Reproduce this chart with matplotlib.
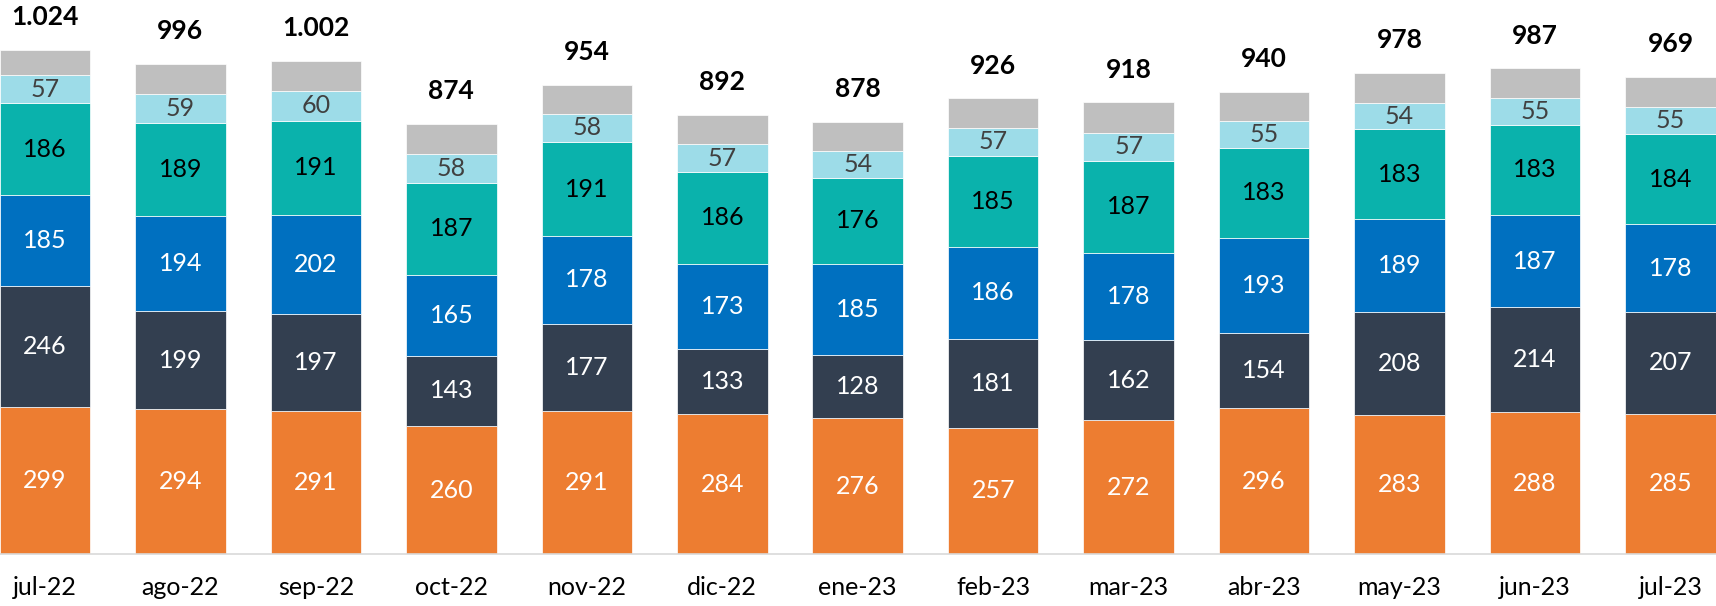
import numpy as np
import matplotlib
matplotlib.use("Agg")
from matplotlib import pyplot as plt

months = ["jul-22", "ago-22", "sep-22", "oct-22", "nov-22", "dic-22", "ene-23",
          "feb-23", "mar-23", "abr-23", "may-23", "jun-23", "jul-23"]
orange = [299, 294, 291, 260, 291, 284, 276, 257, 272, 296, 283, 288, 285]
navy = [246, 199, 197, 143, 177, 133, 128, 181, 162, 154, 208, 214, 207]
blue = [185, 194, 202, 165, 178, 173, 185, 186, 178, 193, 189, 187, 178]
teal = [186, 189, 191, 187, 191, 186, 176, 185, 187, 183, 183, 183, 184]
light = [57, 59, 60, 58, 58, 57, 54, 57, 57, 55, 54, 55, 55]
gray = [51, 61, 61, 61, 59, 59, 59, 60, 62, 59, 61, 60, 60]
totals = [1024, 996, 1002, 874, 954, 892, 878, 926, 918, 940, 978, 987, 969]
total_labels = ["1.024", "996", "1.002", "874", "954", "892", "878",
                "926", "918", "940", "978", "987", "969"]

plt.rcParams['font.family'] = ['Lato', 'DejaVu Sans']

series = [
    (orange, "#ED7D31", "white"),
    (navy, "#333F50", "white"),
    (blue, "#0070C0", "white"),
    (teal, "#0AB2AC", "black"),
    (light, "#9DDCE8", "#404040"),
    (gray, "#BFBFBF", None),
]

fig = plt.figure(figsize=(17.16, 6.06), dpi=100)
ax = fig.add_axes([0, 52 / 606, 1, 554 / 606])

x = np.arange(len(months))
width = 0.668
bottom = np.zeros(len(months))
for vals, color, tcolor in series:
    vals = np.asarray(vals, dtype=float)
    ax.bar(x, vals, width, bottom=bottom, color=color,
           edgecolor="white", linewidth=0.5)
    if tcolor is not None:
        for xi, b, v in zip(x, bottom, vals):
            ax.text(xi, b + v / 2, str(int(v)), ha="center", va="center",
                    fontsize=18, color=tcolor)
    bottom += vals

for xi, t, lab in zip(x, totals, total_labels):
    ax.annotate(lab, (xi, t), xytext=(0, 15), textcoords="offset points",
                ha="center", va="bottom", fontsize=19, fontweight="bold")

ax.set_xlim(-0.332, 12.336)
ax.set_ylim(0, 1126)
ax.set_yticks([])
ax.set_xticks(x)
ax.set_xticklabels(months, fontsize=18)
ax.tick_params(axis="x", length=0, pad=16)
for s in ["top", "left", "right"]:
    ax.spines[s].set_visible(False)
ax.spines["bottom"].set_color("#D9D9D9")
ax.spines["bottom"].set_linewidth(1.2)

fig.savefig("out.png", dpi=100)
